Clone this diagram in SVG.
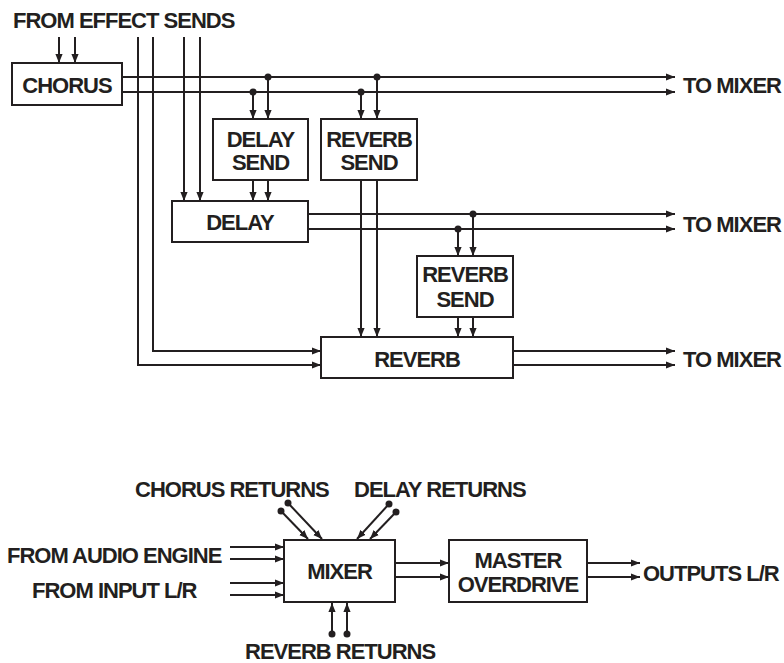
<svg xmlns="http://www.w3.org/2000/svg" width="784" height="663" viewBox="0 0 784 663">
<style>
text{font-family:"Liberation Sans",Arial,sans-serif;font-size:22px;font-weight:bold;fill:#231f20;letter-spacing:-1px}
.m{text-anchor:middle}
.box{fill:#fff;stroke:#231f20;stroke-width:2}
.w{fill:none;stroke:#231f20;stroke-width:2}
.a{marker-end:url(#ah)}
.d{fill:#231f20}
</style>
<defs>
<marker id="ah" viewBox="0 0 10 10" refX="10" refY="5" markerWidth="9" markerHeight="9" markerUnits="userSpaceOnUse" orient="auto"><path d="M0,1 L10,5 L0,9 z" fill="#231f20"/></marker>
</defs>
<rect width="784" height="663" fill="#fff"/>
<g id="connectors">
<path class="w a" d="M59,37 V63"/>
<path class="w a" d="M75,37 V63"/>
<path class="w a" d="M138,37 V365 H321"/>
<path class="w a" d="M153,37 V351 H321"/>
<path class="w a" d="M184,37 V201"/>
<path class="w a" d="M200,37 V201"/>
<path class="w a" d="M122,77 H675"/>
<path class="w a" d="M122,92 H675"/>
<path class="w a" d="M268,77 V119"/>
<path class="w a" d="M253,92 V119"/>
<path class="w a" d="M377,77 V119"/>
<path class="w a" d="M361,92 V119"/>
<path class="w a" d="M253,180 V201"/>
<path class="w a" d="M268,180 V201"/>
<path class="w a" d="M361,180 V337"/>
<path class="w a" d="M377,180 V337"/>
<path class="w a" d="M308,214 H675"/>
<path class="w a" d="M308,229 H675"/>
<path class="w a" d="M473,214 V256"/>
<path class="w a" d="M458,229 V256"/>
<path class="w a" d="M458,317 V337"/>
<path class="w a" d="M473,317 V337"/>
<path class="w a" d="M513,351 H675"/>
<path class="w a" d="M513,365 H675"/>
<circle class="d" cx="268" cy="77" r="3.5"/>
<circle class="d" cx="253" cy="92" r="3.5"/>
<circle class="d" cx="377" cy="77" r="3.5"/>
<circle class="d" cx="361" cy="92" r="3.5"/>
<circle class="d" cx="473" cy="214" r="3.5"/>
<circle class="d" cx="458" cy="229" r="3.5"/>
<path class="w a" d="M230,547 H284"/>
<path class="w a" d="M230,559 H284"/>
<path class="w a" d="M230,583 H284"/>
<path class="w a" d="M230,595 H284"/>
<path class="w a" d="M288,503 L322,539"/>
<path class="w a" d="M281,511 L308,539"/>
<path class="w a" d="M389,504 L357,539"/>
<path class="w a" d="M396,512 L370,539"/>
<path class="w a" d="M332,634 V603"/>
<path class="w a" d="M347,634 V603"/>
<circle class="d" cx="288" cy="503" r="3.5"/>
<circle class="d" cx="281" cy="511" r="3.5"/>
<circle class="d" cx="389" cy="504" r="3.5"/>
<circle class="d" cx="396" cy="512" r="3.5"/>
<circle class="d" cx="332" cy="634" r="3.5"/>
<circle class="d" cx="347" cy="634" r="3.5"/>
<path class="w a" d="M395,563 H449"/>
<path class="w a" d="M395,577 H449"/>
<path class="w a" d="M587,563 H640"/>
<path class="w a" d="M587,577 H640"/>
</g>
<g id="labels">
<text x="13" y="28">FROM EFFECT SENDS</text>
<text x="683" y="93">TO MIXER</text>
<text x="683" y="232">TO MIXER</text>
<text x="683" y="367">TO MIXER</text>
<text x="135" y="497">CHORUS RETURNS</text>
<text x="354" y="497">DELAY RETURNS</text>
<text x="7" y="563">FROM AUDIO ENGINE</text>
<text x="32" y="598">FROM INPUT L/R</text>
<text x="245" y="659">REVERB RETURNS</text>
<text x="643" y="581">OUTPUTS L/R</text>
</g>
<g id="chorus"><rect class="box" x="12" y="63" width="110" height="42"/><text class="m" x="67" y="93">CHORUS</text></g>
<g id="delay-send"><rect class="box" x="213" y="119" width="95" height="61"/><text class="m" x="260.5" y="147">DELAY</text><text class="m" x="260.5" y="170">SEND</text></g>
<g id="reverb-send-1"><rect class="box" x="321" y="119" width="96" height="61"/><text class="m" x="369" y="147">REVERB</text><text class="m" x="369" y="170">SEND</text></g>
<g id="delay"><rect class="box" x="172" y="201" width="136" height="41"/><text class="m" x="240" y="230">DELAY</text></g>
<g id="reverb-send-2"><rect class="box" x="417" y="256" width="96" height="61"/><text class="m" x="465" y="282">REVERB</text><text class="m" x="465" y="307">SEND</text></g>
<g id="reverb"><rect class="box" x="321" y="337" width="192" height="41"/><text class="m" x="417" y="367">REVERB</text></g>
<g id="mixer"><rect class="box" x="284" y="540" width="111" height="62"/><text class="m" x="339.5" y="579">MIXER</text></g>
<g id="master-overdrive"><rect class="box" x="449" y="540" width="138" height="62"/><text class="m" x="518" y="568">MASTER</text><text class="m" x="518" y="592">OVERDRIVE</text></g>
</svg>
